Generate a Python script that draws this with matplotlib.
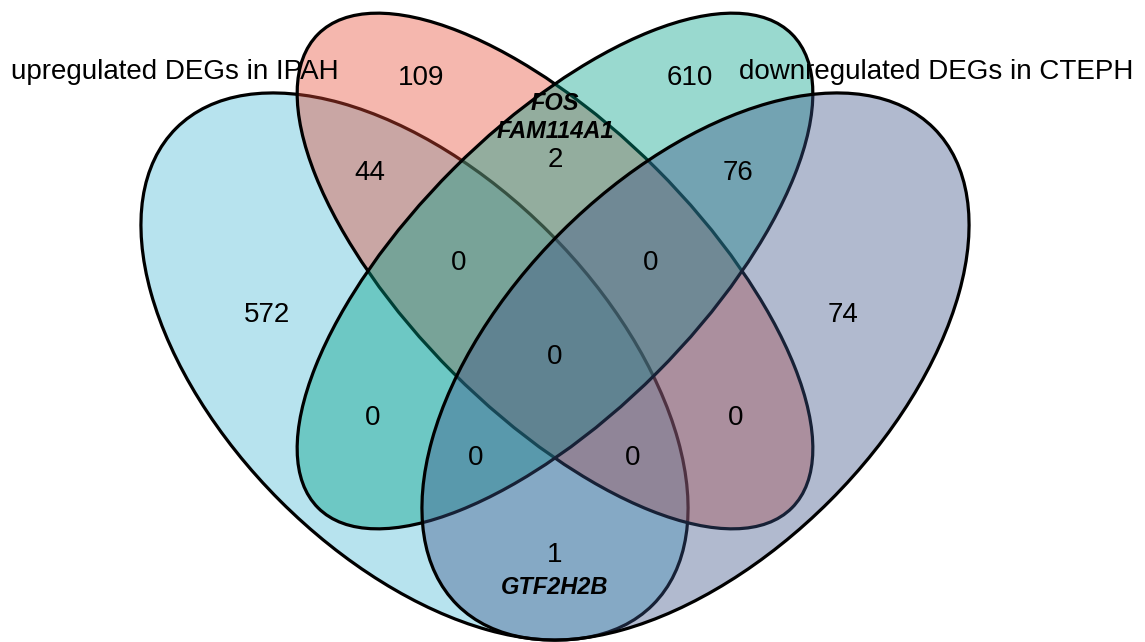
import matplotlib.pyplot as plt
from matplotlib.patches import Ellipse

plt.rcParams['font.family'] = ['Liberation Sans', 'DejaVu Sans']

# four gene sets, in drawing order
set_names = ['upregulated DEGs in IPAH', '', '', 'downregulated DEGs in CTEPH']
set_colors = ['#4DBBD5', '#E64B35', '#00A087', '#3C5488']

# region keys: membership flags for (IPAH up, set 2, set 3, CTEPH down)
regions = ['1000', '0100', '0010', '0001',
           '1100', '1110', '0111', '0011',
           '0110', '1111', '1010', '0101',
           '1011', '1101', '1001']
counts = [572, 109, 610, 74,
          44, 0, 0, 76,
          2, 0, 0, 0,
          0, 0, 1]
shared_genes = {'0110': ['FOS', 'FAM114A1'], '1001': ['GTF2H2B']}

# layout (pixel space, y down)
ellipse_geom = [
    ((414.5, 366.5), 674, 380, 45),
    ((555.0, 271.0), 670, 288, 45),
    ((555.0, 271.0), 670, 288, -45),
    ((695.5, 366.5), 674, 380, -45),
]
count_pos = {
    '1000': (267, 315), '0100': (421, 78), '0010': (690, 78), '0001': (843, 315),
    '1100': (370, 173), '1110': (459, 263), '0111': (651, 263), '0011': (738, 173),
    '0110': (555, 160), '1111': (555, 357), '1010': (373, 418), '0101': (736, 418),
    '1011': (476, 458), '1101': (633, 458), '1001': (555, 555),
}
gene_pos = {'0110': [(555, 104), (555, 131)], '1001': [(555, 587)]}
name_pos = [(175, 72), None, None, (936, 72)]

fig = plt.figure(figsize=(11.45, 6.42), dpi=100)
ax = fig.add_axes([0, 0, 1, 1])
ax.set_xlim(0, 1145)
ax.set_ylim(642, 0)
ax.axis('off')

for (center, w, h, ang), col in zip(ellipse_geom, set_colors):
    e = Ellipse(center, w, h, angle=ang, facecolor=col, edgecolor='black',
                linewidth=2.3)
    e.set_facecolor((*e.get_facecolor()[:3], 0.4))
    ax.add_patch(e)

for key, n in zip(regions, counts):
    x, y = count_pos[key]
    ax.text(x, y, str(n), ha='center', va='center', fontsize=20)

for key, genes in shared_genes.items():
    for g, (x, y) in zip(genes, gene_pos[key]):
        ax.text(x, y, g, ha='center', va='center', fontsize=17,
                fontweight='bold', fontstyle='italic')

for name, pos in zip(set_names, name_pos):
    if name and pos:
        ax.text(pos[0], pos[1], name, ha='center', va='center', fontsize=20)

fig.savefig('out.png', dpi=100)
